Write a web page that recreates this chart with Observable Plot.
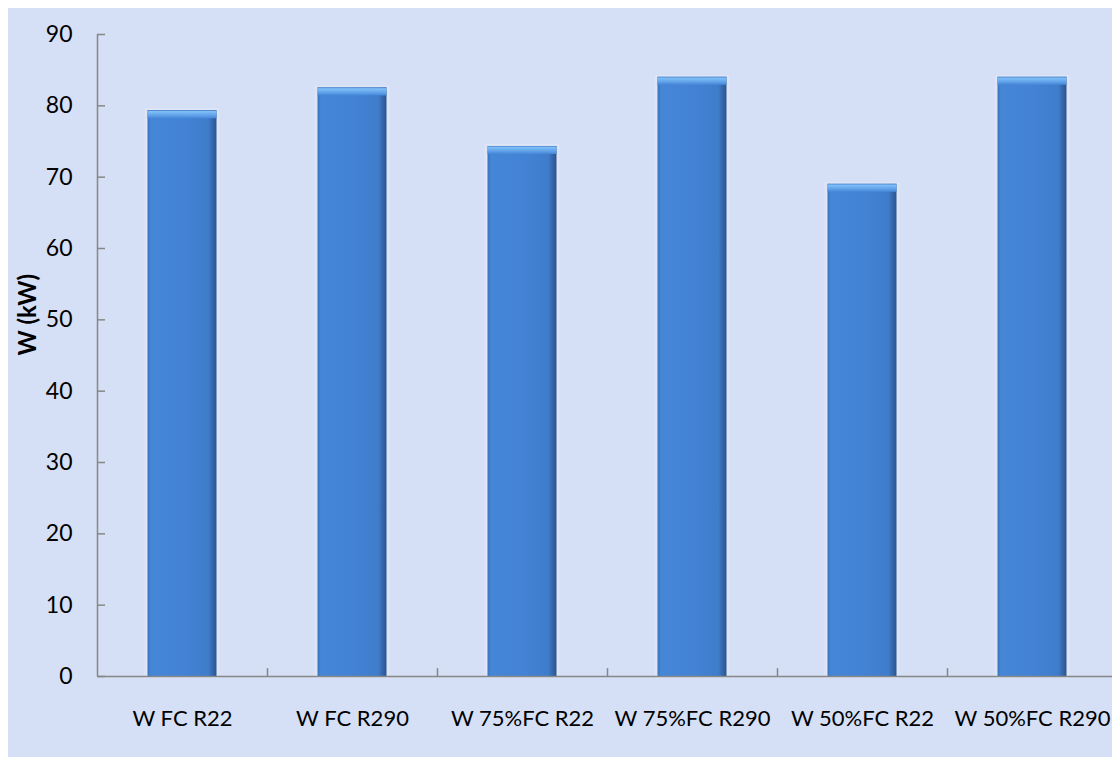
<!DOCTYPE html>
<html>
<head>
<meta charset="utf-8">
<script src="https://cdn.jsdelivr.net/npm/d3@7"></script>
<script src="https://cdn.jsdelivr.net/npm/@observablehq/plot@0.6"></script>
<style>
  html, body { margin: 0; padding: 0; background: #ffffff; }
  #chart {
    position: absolute; left: 8px; top: 8px;
    width: 1104px; height: 749px;
    background: #d5dff5;
    overflow: hidden;
  }
</style>
</head>
<body>
<div id="chart"></div>
<script>
// Electrical power input per configuration
const categories = ["W FC R22", "W FC R290", "W 75%FC R22", "W 75%FC R290", "W 50%FC R22", "W 50%FC R290"];
const powerKW = [79.3, 82.5, 74.3, 84.0, 69.0, 84.0];
const yTicks = [0, 10, 20, 30, 40, 50, 60, 70, 80, 90];
const yTitle = "W (kW)";

const rows = categories.map((c, i) => ({category: c, value: powerKW[i]}));

const axisColor = "#878787";
const barInset = 50.5;

const chart = Plot.plot({
  width: 1104,
  height: 749,
  marginLeft: 89,
  marginRight: 0,
  marginTop: 26,
  marginBottom: 81,
  style: {background: "transparent", fontFamily: "Lato, 'Open Sans', sans-serif", fontSize: "23px", color: "#000"},
  x: {domain: categories, range: [89, 1109], padding: 0, label: null},
  y: {domain: [0, 90], label: null},
  marks: [
    // soft halo around each bar
    Plot.barY(rows, {x: "category", y: "value", fill: "none", stroke: "#e3eaf9", strokeWidth: 4, strokeOpacity: 0.6,
      insetLeft: barInset - 1, insetRight: barInset - 1}),
    // bar body
    Plot.barY(rows, {x: "category", y: "value", fill: "url(#barBody)", insetLeft: barInset, insetRight: barInset}),
    // bevelled top cap
    Plot.barY(rows, {x: "category", y1: "value", y2: "value", fill: "url(#barBevel)",
      insetLeft: barInset, insetRight: barInset, insetBottom: -8, insetTop: 0}),
    // x axis baseline
    Plot.ruleY([0], {stroke: axisColor, strokeWidth: 1.5}),
    // y axis line
    Plot.ruleX([categories[0]], {dx: -85, y1: 0, y2: 90, stroke: axisColor, strokeWidth: 1.5}),
    // inward y ticks
    Plot.tickY(yTicks, {y: d => d, stroke: axisColor, strokeWidth: 1.5, insetRight: 1015 - 8}),
    // x ticks between categories
    Plot.ruleX(categories.slice(0, 5), {dx: 85, y1: 0, y2: 1.1, stroke: axisColor, strokeWidth: 1.5}),
    Plot.axisY({ticks: yTicks, tickSize: 0, tickPadding: 25, fontSize: 23, fill: "#000"}),
    Plot.axisX({tickSize: 0, tickPadding: 34, fontSize: 22, fill: "#000"}),
    Plot.text([yTitle], {frameAnchor: "left", dx: -69, rotate: -90, fontSize: 24, fontWeight: "bold", fill: "#000"})
  ]
});

// gradients used by the bars
const defs = d3.select(chart).insert("defs", ":first-child");
const body = defs.append("linearGradient").attr("id", "barBody").attr("x1", 0).attr("x2", 1).attr("y1", 0).attr("y2", 0);
[[0, "#3a73be"], [0.05, "#4586d7"], [0.5, "#4383d5"], [0.88, "#3f7dcb"], [0.95, "#3464a6"], [1, "#2a558f"]]
  .forEach(([o, c]) => body.append("stop").attr("offset", o).attr("stop-color", c));
const bevel = defs.append("linearGradient").attr("id", "barBevel").attr("x1", 0).attr("x2", 0).attr("y1", 0).attr("y2", 1);
[[0, "#3b78c8"], [0.15, "#7fbff6"], [0.5, "#69aaee"], [1, "#4687d8"]]
  .forEach(([o, c]) => bevel.append("stop").attr("offset", o).attr("stop-color", c));

document.getElementById("chart").appendChild(chart);
</script>
</body>
</html>
